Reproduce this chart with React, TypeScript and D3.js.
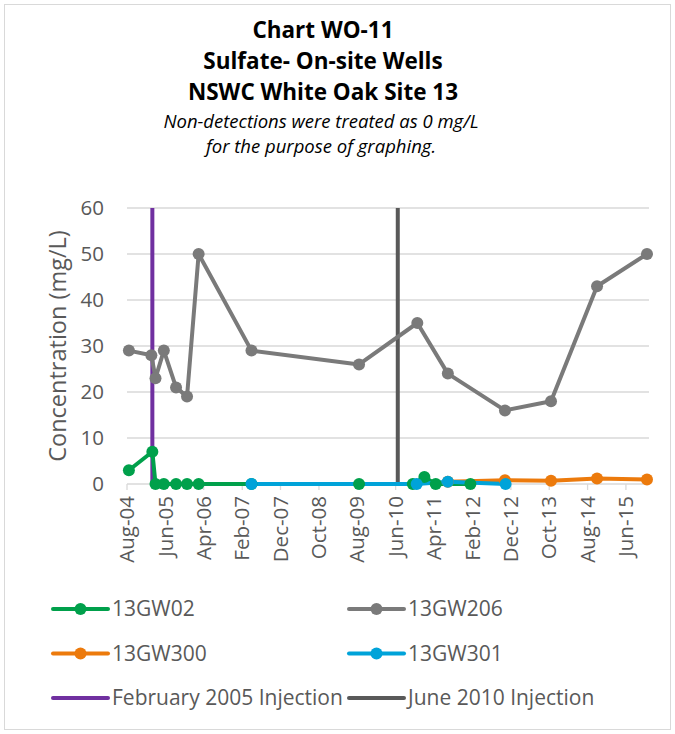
import React from 'react';
import * as d3 from 'd3';

// sample dates and sulfate concentrations (mg/L)
const gw02Dates = ['2004-08-16', '2005-02-18', '2005-03-15', '2005-05-20', '2005-08-25', '2005-11-20', '2006-02-20', '2007-04-15', '2009-08-15', '2010-10-15', '2011-01-15', '2011-04-15', '2012-01-15'];
const gw02Values = [3, 7, 0, 0, 0, 0, 0, 0, 0, 0, 1.5, 0, 0];

const gw206Dates = ['2004-08-16', '2005-02-10', '2005-03-15', '2005-05-20', '2005-08-25', '2005-11-20', '2006-02-20', '2007-04-15', '2009-08-15', '2010-11-20', '2011-07-20', '2012-10-15', '2013-10-15', '2014-10-15', '2015-11-15'];
const gw206Values = [29, 28, 23, 29, 21, 19, 50, 29, 26, 35, 24, 16, 18, 43, 50];

const gw300Dates = ['2011-07-20', '2012-10-15', '2013-10-15', '2014-10-15', '2015-11-15'];
const gw300Values = [0.5, 0.8, 0.7, 1.2, 1.0];

const gw301Dates = ['2007-04-15', '2010-11-15', '2011-07-20', '2012-10-20'];
const gw301Values = [0, 0, 0.5, 0];

const injectionDates = ['2005-02-18', '2010-06-18'];
const injectionNames = ['February 2005 Injection', 'June 2010 Injection'];
const injectionColors = ['#7030a0', '#595959'];

const seriesNames = ['13GW02', '13GW206', '13GW300', '13GW301'];
const seriesColors = ['#00a04b', '#7a7a7a', '#ec7a0c', '#00a3d9'];

const yTicks = [0, 10, 20, 30, 40, 50, 60];
const xTickLabels = ['Aug-04', 'Jun-05', 'Apr-06', 'Feb-07', 'Dec-07', 'Oct-08', 'Aug-09', 'Jun-10', 'Apr-11', 'Feb-12', 'Dec-12', 'Oct-13', 'Aug-14', 'Jun-15'];

const titleLines = ['Chart WO-11', 'Sulfate- On-site Wells', 'NSWC White Oak Site 13'];
const noteLines = ['Non-detections were treated as 0 mg/L', 'for the purpose of graphing.'];

const parse = d3.timeParse('%Y-%m-%d');
const tickParse = d3.timeParse('%b-%y');

const FONT = "'Open Sans', sans-serif";

export default function App() {
  const width = 675;
  const height = 734;
  const plot = { left: 127, right: 649, top: 208, bottom: 484 };

  const x = d3.scaleTime()
    .domain([new Date(2004, 7, 1), new Date(2015, 11, 1)])
    .range([plot.left, plot.right]);
  const y = d3.scaleLinear().domain([0, 60]).range([plot.bottom, plot.top]);

  const series = [
    { dates: gw02Dates, values: gw02Values },
    { dates: gw206Dates, values: gw206Values },
    { dates: gw300Dates, values: gw300Values },
    { dates: gw301Dates, values: gw301Values },
  ].map((s, i) => ({
    name: seriesNames[i],
    color: seriesColors[i],
    points: s.dates.map((d, j) => ({ date: parse(d) as Date, value: s.values[j] })),
  }));

  const line = d3.line<{ date: Date; value: number }>()
    .x(d => x(d.date))
    .y(d => y(d.value));

  const legendItems = [
    ...series.map(s => ({ name: s.name, color: s.color, marker: true })),
    ...injectionNames.map((n, i) => ({ name: n, color: injectionColors[i], marker: false })),
  ];

  return (
    <svg width={width} height={height} style={{ position: 'absolute', left: 0, top: 0, background: '#fff' }}>
      <rect x={4.5} y={4.5} width={666} height={725} fill="#fff" stroke="#d9d9d9" />

      {/* titles */}
      {titleLines.map((t, i) => (
        <text key={t} x={323} y={38 + i * 31} textAnchor="middle" fontFamily={FONT} fontWeight="bold" fontSize={22.5} fill="#000">{t}</text>
      ))}
      {noteLines.map((t, i) => (
        <text key={t} x={321} y={128 + i * 25} textAnchor="middle" fontFamily={FONT} fontStyle="italic" fontSize={18.5} fill="#000">{t}</text>
      ))}

      {/* gridlines */}
      {yTicks.map(t => (
        <g key={t}>
          <line x1={plot.left} x2={plot.right} y1={y(t)} y2={y(t)} stroke="#d9d9d9" strokeWidth={1.3} />
          <text x={104} y={y(t)} dy="0.35em" textAnchor="end" fontFamily={FONT} fontSize={20.5} fill="#595959">{t}</text>
        </g>
      ))}

      {/* x ticks */}
      {xTickLabels.map(l => {
        const xp = x(tickParse(l) as Date);
        return (
          <g key={l}>
            <line x1={xp} x2={xp} y1={plot.bottom} y2={plot.bottom + 6} stroke="#d9d9d9" strokeWidth={1.3} />
            <text transform={`translate(${xp},${plot.bottom + 12}) rotate(-90)`} dy="0.35em" textAnchor="end" fontFamily={FONT} fontSize={20.5} fill="#595959">{l}</text>
          </g>
        );
      })}

      <text transform={`translate(58,${(plot.top + plot.bottom) / 2}) rotate(-90)`} dy="0.35em" textAnchor="middle" fontFamily={FONT} fontSize={23.5} fill="#595959">Concentration (mg/L)</text>

      {/* injection events */}
      {injectionDates.map((d, i) => {
        const xp = x(parse(d) as Date);
        return <line key={d} x1={xp} x2={xp} y1={y(0)} y2={y(60)} stroke={injectionColors[i]} strokeWidth={4} />;
      })}

      {/* series lines, then markers on top */}
      {series.map(s => (
        <path key={s.name} d={line(s.points) || ''} fill="none" stroke={s.color} strokeWidth={4} strokeLinejoin="round" />
      ))}
      {series.map(s => (
        <g key={s.name}>
          {s.points.map((p, j) => (
            <circle key={j} cx={x(p.date)} cy={y(p.value)} r={6} fill={s.color} />
          ))}
        </g>
      ))}

      {/* legend */}
      {legendItems.map((item, i) => {
        const col = i % 2;
        const row = Math.floor(i / 2);
        const lx = col === 0 ? 53 : 349;
        const ly = 609 + row * 44.5;
        return (
          <g key={item.name}>
            <line x1={lx} x2={lx + 55} y1={ly} y2={ly} stroke={item.color} strokeWidth={4} strokeLinecap="round" />
            {item.marker && <circle cx={lx + 27.5} cy={ly} r={6} fill={item.color} />}
            <text x={lx + 59} y={ly} dy="0.35em" fontFamily={FONT} fontSize={21} fill="#595959">{item.name}</text>
          </g>
        );
      })}
    </svg>
  );
}
